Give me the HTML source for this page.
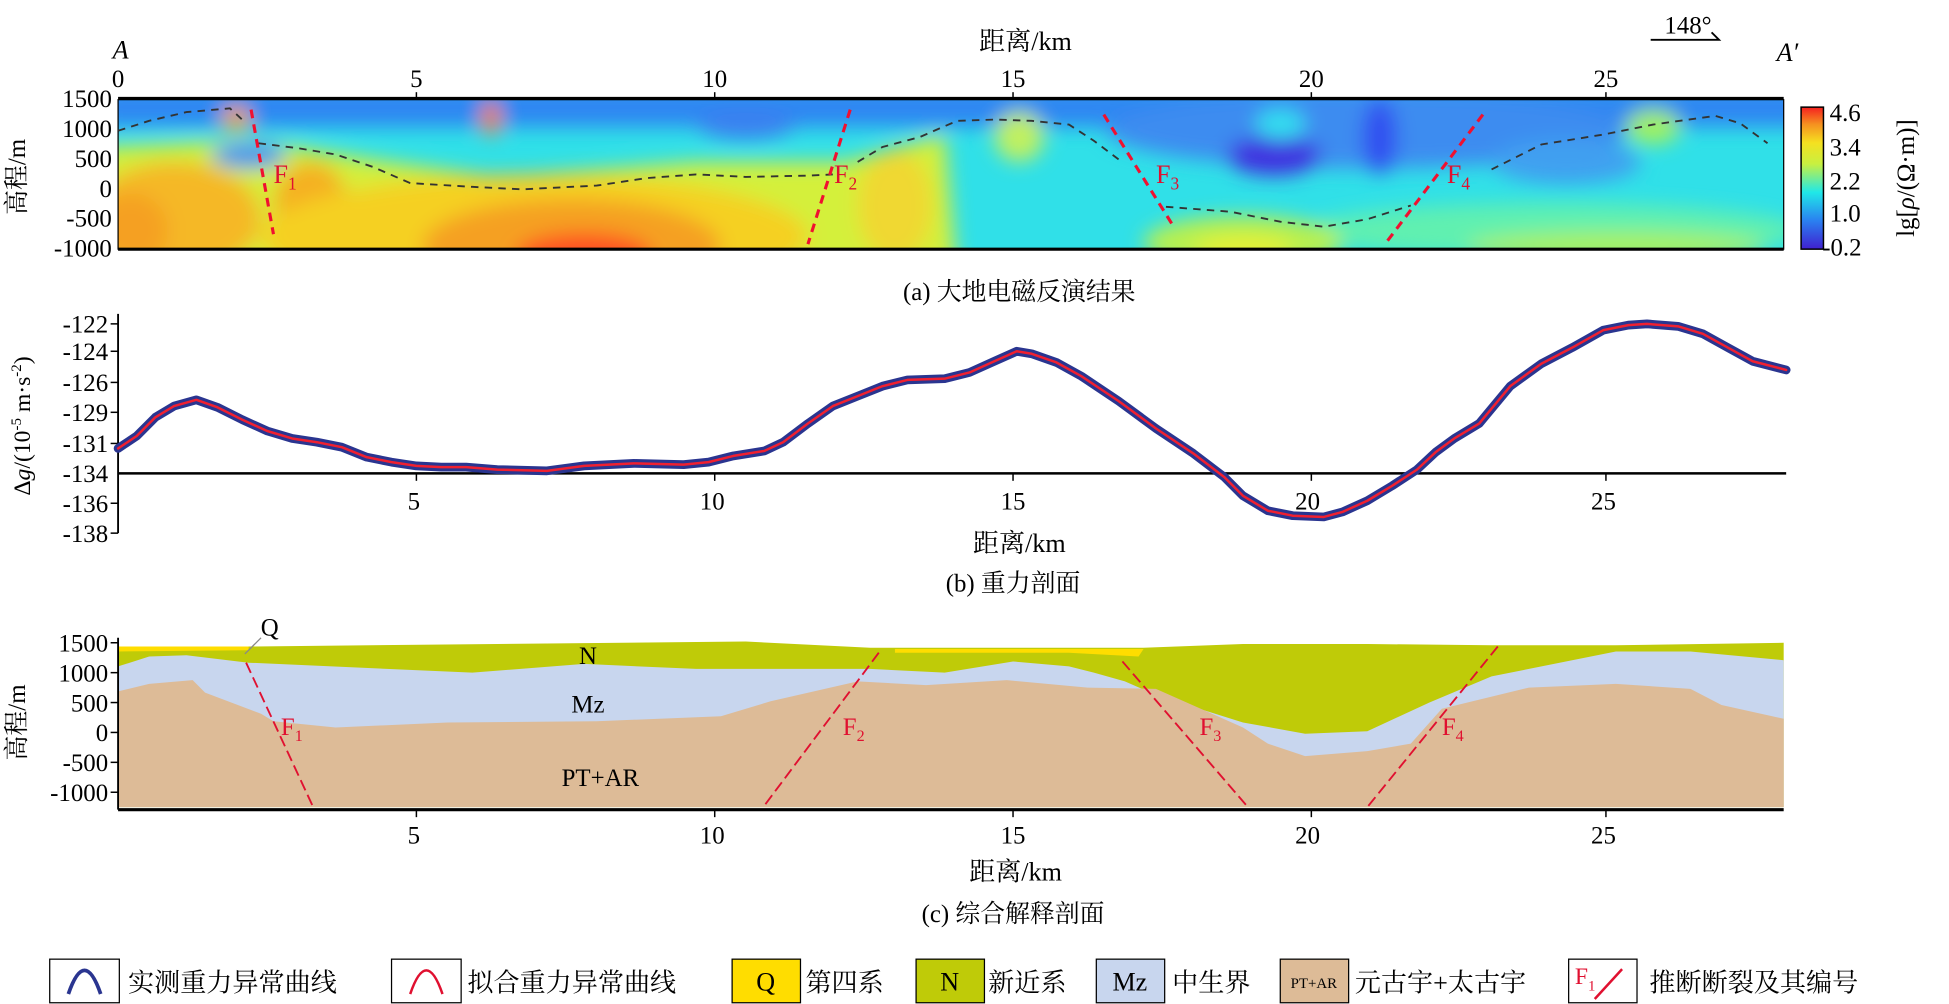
<!DOCTYPE html>
<html><head><meta charset="utf-8"><style>
html,body{margin:0;padding:0;background:#fff;width:1949px;height:1004px;overflow:hidden}
svg{display:block}
text{font-family:"Liberation Serif","Noto Serif CJK SC",serif;fill:#000}
.r{fill:#e01030}
</style></head><body>
<svg width="1949" height="1004" viewBox="0 0 1568 806" preserveAspectRatio="none" xmlns="http://www.w3.org/2000/svg">
<defs>
<clipPath id="ca"><rect x="95" y="80" width="1340" height="120"/></clipPath>
<filter id="bl" x="-20%" y="-50%" width="140%" height="200%"><feGaussianBlur stdDeviation="8"/></filter>
<linearGradient id="cb" x1="0" y1="1" x2="0" y2="0">
<stop offset="0" stop-color="#4020d0"/><stop offset="0.2" stop-color="#2a80f0"/><stop offset="0.4" stop-color="#20e8e8"/><stop offset="0.6" stop-color="#c8f040"/><stop offset="0.75" stop-color="#f5e020"/><stop offset="0.88" stop-color="#f59020"/><stop offset="1" stop-color="#f52020"/></linearGradient>
</defs>

<!-- Panel a -->
<text x="825" y="40" font-size="21" text-anchor="middle">距离/km</text>
<text x="97" y="47" font-size="21" font-style="italic" text-anchor="middle">A</text>
<text x="1438" y="49" font-size="21" font-style="italic" text-anchor="middle">A′</text>
<text x="1358" y="27" font-size="20" text-anchor="middle">148°</text>
<polyline points="1328,32 1383,32 1377,26" fill="none" stroke="#000" stroke-width="1.5"/>
<g font-size="20" text-anchor="middle">
<text x="95" y="70">0</text><text x="335" y="70">5</text><text x="575" y="70">10</text><text x="815" y="70">15</text><text x="1055" y="70">20</text><text x="1292" y="70">25</text></g>
<g clip-path="url(#ca)">
<rect x="95" y="80" width="1340" height="120" fill="#30e0e8"/>
<g filter="url(#bl)">
<rect x="80" y="70" width="1380" height="32" fill="#2f86f2"/>
<polygon points="80,118 200,112 300,128 400,142 560,130 680,130 760,108 770,220 80,220" fill="#d4f03a"/>
<ellipse cx="140" cy="175" rx="70" ry="45" fill="#f5b828"/>
<ellipse cx="105" cy="185" rx="30" ry="30" fill="#f5a020"/>
<ellipse cx="250" cy="165" rx="30" ry="35" fill="#f5b020"/>
<ellipse cx="430" cy="190" rx="220" ry="50" fill="#f5d020"/>
<ellipse cx="460" cy="198" rx="120" ry="38" fill="#f5a020"/>
<ellipse cx="470" cy="205" rx="55" ry="18" fill="#ff5020"/>
<ellipse cx="720" cy="165" rx="30" ry="45" fill="#f0d830"/>
<ellipse cx="395" cy="95" rx="8" ry="14" fill="#f08020"/>
<ellipse cx="190" cy="95" rx="12" ry="10" fill="#f0a030"/>
<ellipse cx="1100" cy="105" rx="210" ry="30" fill="#3c8cf0"/>
<ellipse cx="1025" cy="125" rx="38" ry="16" fill="#4030e0"/>
<ellipse cx="1030" cy="100" rx="20" ry="12" fill="#30e0f0"/>
<ellipse cx="1110" cy="110" rx="14" ry="30" fill="#3050f0"/>
<ellipse cx="1260" cy="130" rx="60" ry="18" fill="#40a0f0"/>
<ellipse cx="1330" cy="102" rx="22" ry="14" fill="#a0f060"/>
<ellipse cx="1250" cy="185" rx="200" ry="22" fill="#60f0b0"/>
<ellipse cx="1300" cy="198" rx="120" ry="12" fill="#a8f060"/>
<ellipse cx="1000" cy="195" rx="80" ry="22" fill="#b8f050"/>
<ellipse cx="1000" cy="200" rx="40" ry="10" fill="#e8f030"/>
<ellipse cx="820" cy="110" rx="20" ry="20" fill="#c0f060"/>
<ellipse cx="600" cy="100" rx="40" ry="12" fill="#3a80f0"/>
<ellipse cx="200" cy="125" rx="30" ry="10" fill="#3a90f0"/>
</g>
</g>
<rect x="95" y="80" width="1340" height="120" fill="none" stroke="#000" stroke-width="1"/>
<line x1="95" y1="79" x2="1435" y2="79" stroke="#000" stroke-width="2.5"/>
<line x1="95" y1="200" x2="1435" y2="200" stroke="#000" stroke-width="2.5"/>
<g stroke="#000" stroke-width="1.2"><line x1="335" y1="74" x2="335" y2="80"/><line x1="575" y1="74" x2="575" y2="80"/><line x1="815" y1="74" x2="815" y2="80"/><line x1="1055" y1="74" x2="1055" y2="80"/><line x1="1292" y1="74" x2="1292" y2="80"/></g>
<g font-size="20" text-anchor="end">
<text x="90" y="86">1500</text><text x="90" y="110">1000</text><text x="90" y="134">500</text><text x="90" y="158">0</text><text x="90" y="182">-500</text><text x="90" y="206">-1000</text></g>
<text transform="translate(20,142) rotate(-90)" font-size="20" text-anchor="middle">高程/m</text>
<g fill="none" stroke="#333" stroke-width="1.5" stroke-dasharray="6,5">
<polyline points="95,105 120,97 150,90 185,87 197,98"/>
<polyline points="208,115 240,119 270,124 300,134 330,147 380,150 420,152 480,149 520,143 560,140 600,142 650,141 670,140"/>
<polyline points="690,130 710,118 740,110 770,97 800,96 830,97 860,100 880,113 900,128"/>
<polyline points="938,166 990,170 1030,178 1065,182 1100,176 1135,165"/>
<polyline points="1200,136 1240,116 1290,108 1330,100 1380,93 1400,99 1422,115"/></g>
<g stroke="#f01030" stroke-width="2.5" stroke-dasharray="7,5">
<line x1="202" y1="88" x2="220" y2="188"/><line x1="684" y1="88" x2="650" y2="196"/><line x1="888" y1="92" x2="943" y2="180"/><line x1="1193" y1="92" x2="1115" y2="195"/></g>
<g font-size="21">
<text class="r" x="220" y="147">F<tspan class="r" font-size="14" dy="5">1</tspan></text>
<text class="r" x="671" y="147">F<tspan class="r" font-size="14" dy="5">2</tspan></text>
<text class="r" x="930" y="147">F<tspan class="r" font-size="14" dy="5">3</tspan></text>
<text class="r" x="1164" y="147">F<tspan class="r" font-size="14" dy="5">4</tspan></text></g>
<rect x="1449" y="86" width="18" height="114" fill="url(#cb)" stroke="#000" stroke-width="1.2"/>
<g font-size="20"><text x="1472" y="97">4.6</text><text x="1472" y="125">3.4</text><text x="1472" y="152">2.2</text><text x="1472" y="178">1.0</text><text x="1466" y="205">-0.2</text></g>
<text transform="translate(1540,143) rotate(-90)" font-size="20" text-anchor="middle">lg[<tspan font-style="italic">ρ</tspan>/(Ω·m)]</text>
<text x="820" y="241" font-size="20" text-anchor="middle">(a) 大地电磁反演结果</text>

<!-- Panel b -->
<line x1="95" y1="252" x2="95" y2="428" stroke="#000" stroke-width="1.5"/>
<line x1="95" y1="380" x2="1437" y2="380" stroke="#000" stroke-width="2"/>
<g stroke="#000" stroke-width="1.2"><line x1="89" y1="260" x2="95" y2="260"/><line x1="89" y1="282" x2="95" y2="282"/><line x1="89" y1="307" x2="95" y2="307"/><line x1="89" y1="331" x2="95" y2="331"/><line x1="89" y1="356" x2="95" y2="356"/><line x1="89" y1="404" x2="95" y2="404"/><line x1="89" y1="428" x2="95" y2="428"/>
<line x1="335" y1="380" x2="335" y2="386"/><line x1="575" y1="380" x2="575" y2="386"/><line x1="815" y1="380" x2="815" y2="386"/><line x1="1055" y1="380" x2="1055" y2="386"/><line x1="1292" y1="380" x2="1292" y2="386"/></g>
<g font-size="20" text-anchor="end">
<text x="87" y="267">-122</text><text x="87" y="289">-124</text><text x="87" y="314">-126</text><text x="87" y="338">-129</text><text x="87" y="363">-131</text><text x="87" y="387">-134</text><text x="87" y="411">-136</text><text x="87" y="435">-138</text></g>
<g font-size="20" text-anchor="middle"><text x="333" y="409">5</text><text x="573" y="409">10</text><text x="815" y="409">15</text><text x="1052" y="409">20</text><text x="1290" y="409">25</text></g>
<text transform="translate(24,342) rotate(-90)" font-size="19" text-anchor="middle">Δ<tspan font-style="italic">g</tspan>/(10<tspan font-size="12" dy="-7">-5</tspan><tspan dy="7"> m·s</tspan><tspan font-size="12" dy="-7">-2</tspan><tspan dy="7">)</tspan></text>
<g fill="none" stroke-linejoin="round" stroke-linecap="round">
<polyline points="95,360 110,350 125,335 140,326 158,321 175,327 195,337 215,346 235,352 255,355 275,359 295,367 315,371 335,374 355,375 375,375 400,377 440,378 470,374 510,372 550,373 570,371 590,366 615,362 630,355 650,340 670,326 690,318 710,310 730,305 760,304 780,299 800,290 818,282 830,284 850,291 870,302 900,322 930,344 960,364 985,383 1000,398 1020,410 1040,414 1065,415 1080,411 1100,402 1120,390 1140,377 1155,363 1170,352 1190,340 1215,310 1240,292 1265,279 1290,265 1310,261 1325,260 1350,262 1370,268 1390,279 1410,290 1437,297" stroke="#2a3590" stroke-width="7"/>
<polyline points="95,360 110,350 125,335 140,326 158,321 175,327 195,337 215,346 235,352 255,355 275,359 295,367 315,371 335,374 355,375 375,375 400,377 440,378 470,374 510,372 550,373 570,371 590,366 615,362 630,355 650,340 670,326 690,318 710,310 730,305 760,304 780,299 800,290 818,282 830,284 850,291 870,302 900,322 930,344 960,364 985,383 1000,398 1020,410 1040,414 1065,415 1080,411 1100,402 1120,390 1140,377 1155,363 1170,352 1190,340 1215,310 1240,292 1265,279 1290,265 1310,261 1325,260 1350,262 1370,268 1390,279 1410,290 1437,297" stroke="#f02030" stroke-width="2"/>
</g>
<text x="820" y="443" font-size="21" text-anchor="middle">距离/km</text>
<text x="815" y="475" font-size="20" text-anchor="middle">(b) 重力剖面</text>

<!-- Panel c -->
<polygon points="95,520 200,519 400,517 600,515 700,520 800,520 920,520 1000,517 1100,517 1200,518 1300,518 1435,516 1435,648 95,648" fill="#bfcb08"/>
<polygon points="95,519 200,519 200,522 95,523" fill="#ffdd00"/>
<polygon points="720,521 920,521 916,527 860,524 720,524" fill="#ffdd00"/>
<polygon points="95,535 120,527 150,526 200,532 380,540 470,533 560,537 700,537 760,540 815,531 860,535 880,540 905,547 930,558 1000,580 1050,589 1100,587 1150,564 1200,543 1300,523 1360,523 1435,530 1435,648 95,648" fill="#c8d6ee"/>
<polygon points="95,555 120,549 155,546 165,556 210,573 220,579 270,584 360,580 480,579 580,575 620,563 690,547 745,550 810,546 875,552 930,553 1000,584 1020,597 1050,607 1100,603 1135,597 1160,569 1230,552 1300,549 1360,553 1385,566 1435,577 1435,648 95,648" fill="#ddbb97"/>
<line x1="95" y1="512" x2="95" y2="650" stroke="#000" stroke-width="1.5"/>
<line x1="95" y1="650" x2="1435" y2="650" stroke="#000" stroke-width="2.5"/>
<g stroke="#000" stroke-width="1.2"><line x1="89" y1="516" x2="95" y2="516"/><line x1="89" y1="540" x2="95" y2="540"/><line x1="89" y1="564" x2="95" y2="564"/><line x1="89" y1="588" x2="95" y2="588"/><line x1="89" y1="612" x2="95" y2="612"/><line x1="89" y1="636" x2="95" y2="636"/>
<line x1="335" y1="650" x2="335" y2="656"/><line x1="575" y1="650" x2="575" y2="656"/><line x1="815" y1="650" x2="815" y2="656"/><line x1="1055" y1="650" x2="1055" y2="656"/><line x1="1292" y1="650" x2="1292" y2="656"/></g>
<g font-size="20" text-anchor="end">
<text x="87" y="523">1500</text><text x="87" y="547">1000</text><text x="87" y="571">500</text><text x="87" y="595">0</text><text x="87" y="619">-500</text><text x="87" y="643">-1000</text></g>
<text transform="translate(20,580) rotate(-90)" font-size="20" text-anchor="middle">高程/m</text>
<g font-size="20" text-anchor="middle"><text x="333" y="677">5</text><text x="573" y="677">10</text><text x="815" y="677">15</text><text x="1052" y="677">20</text><text x="1290" y="677">25</text></g>
<text x="817" y="707" font-size="21" text-anchor="middle">距离/km</text>
<text x="815" y="740" font-size="20" text-anchor="middle">(c) 综合解释剖面</text>
<g stroke="#e01030" stroke-width="1.5" stroke-dasharray="9,4">
<line x1="198" y1="532" x2="252" y2="648"/><line x1="707" y1="524" x2="614" y2="648"/><line x1="903" y1="531" x2="1004" y2="648"/><line x1="1205" y1="519" x2="1100" y2="648"/></g>
<line x1="210" y1="512" x2="197" y2="525" stroke="#888" stroke-width="1"/>
<text x="217" y="510" font-size="20" text-anchor="middle">Q</text>
<text x="473" y="533" font-size="20" text-anchor="middle">N</text>
<text x="473" y="572" font-size="20" text-anchor="middle">Mz</text>
<text x="483" y="631" font-size="20" text-anchor="middle">PT+AR</text>
<g font-size="20">
<text class="r" x="226" y="590">F<tspan class="r" font-size="13" dy="5">1</tspan></text>
<text class="r" x="678" y="590">F<tspan class="r" font-size="13" dy="5">2</tspan></text>
<text class="r" x="965" y="590">F<tspan class="r" font-size="13" dy="5">3</tspan></text>
<text class="r" x="1160" y="590">F<tspan class="r" font-size="13" dy="5">4</tspan></text></g>

<!-- Legend -->
<g stroke="#000" stroke-width="1">
<rect x="40" y="770" width="56" height="35" fill="#fff"/>
<rect x="315" y="770" width="56" height="35" fill="#fff"/>
<rect x="589" y="770" width="55" height="35" fill="#ffdd00"/>
<rect x="737" y="770" width="55" height="35" fill="#bfcb08"/>
<rect x="882" y="770" width="55" height="35" fill="#c8d6ee"/>
<rect x="1030" y="770" width="55" height="35" fill="#ddbb97"/>
<rect x="1262" y="770" width="55" height="35" fill="#fff"/>
</g>
<path d="M55,798 Q68,760 81,798" fill="none" stroke="#2a3590" stroke-width="3"/>
<path d="M330,798 Q343,760 356,798" fill="none" stroke="#e01030" stroke-width="2"/>
<line x1="1283" y1="802" x2="1305" y2="778" stroke="#e01030" stroke-width="2"/>
<text class="r" x="1267" y="790" font-size="19">F<tspan class="r" font-size="12" dy="5">1</tspan></text>
<g font-size="21">
<text x="103" y="796">实测重力异常曲线</text>
<text x="376" y="796">拟合重力异常曲线</text>
<text x="616" y="795" text-anchor="middle">Q</text>
<text x="648" y="796">第四系</text>
<text x="764" y="795" text-anchor="middle">N</text>
<text x="795" y="796">新近系</text>
<text x="909" y="795" text-anchor="middle">Mz</text>
<text x="943" y="796">中生界</text>
<text x="1057" y="793" text-anchor="middle" font-size="12">PT+AR</text>
<text x="1090" y="796">元古宇+太古宇</text>
<text x="1327" y="796">推断断裂及其编号</text>
</g>
</svg>
</body></html>
